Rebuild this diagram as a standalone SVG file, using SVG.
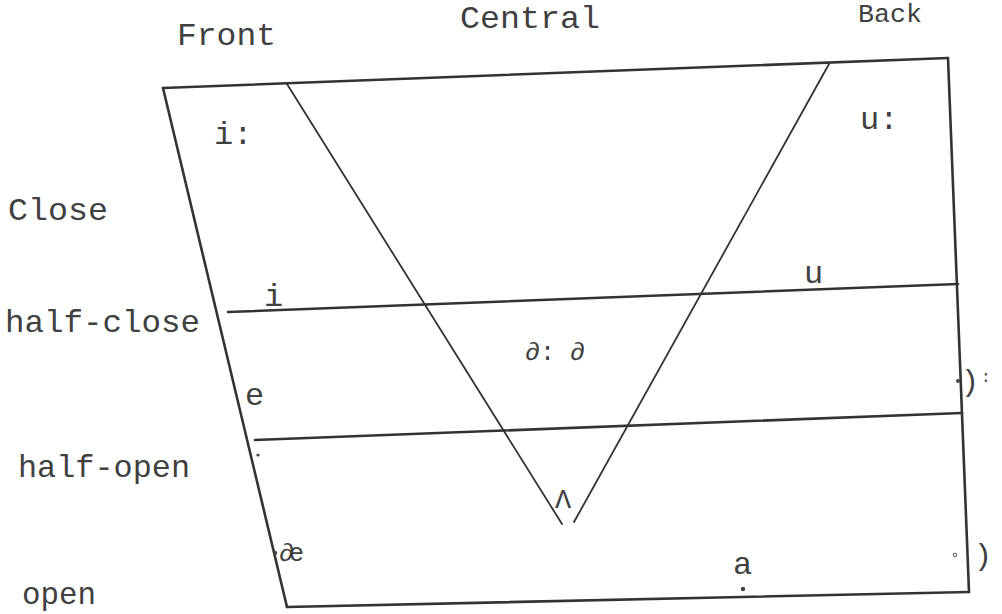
<svg xmlns="http://www.w3.org/2000/svg" width="1002" height="614" viewBox="0 0 1002 614">
<style>
.t{font-family:"Liberation Mono","Courier New",monospace;fill:#404040;font-size:32px}
.s{font-family:"Liberation Mono","Courier New",monospace;fill:#404040;font-size:25px}
.ln{stroke:#333;stroke-width:2.6;fill:none;stroke-linecap:round}
.v{stroke:#333;stroke-width:1.8;fill:none;stroke-linecap:round}
.d{fill:#444}
</style>
<rect width="1002" height="614" fill="#fff"/>
<g id="connectors">
<polyline class="ln" points="163,88 948,58"/>
<polyline class="ln" points="163,88 287,607"/>
<polyline class="ln" points="948,58 969,592"/>
<polyline class="ln" points="287,607 969,592"/>
<polyline class="ln" points="228,312 958,284"/>
<polyline class="ln" points="255,440 962,413"/>
<polyline class="v" points="287,84 562,524"/>
<polyline class="v" points="829,64 574,522"/>
</g>
<g id="headers">
<text class="t" x="177" y="45" textLength="99" lengthAdjust="spacingAndGlyphs">Front</text>
<text class="t" x="460" y="28" textLength="140" lengthAdjust="spacingAndGlyphs">Central</text>
<text class="t" x="858" y="22" style="font-size:26px" textLength="64" lengthAdjust="spacingAndGlyphs">Back</text>
</g>
<g id="rows">
<text class="t" x="8" y="220" textLength="100" lengthAdjust="spacingAndGlyphs">Close</text>
<text class="t" x="5" y="332" textLength="195" lengthAdjust="spacingAndGlyphs">half-close</text>
<text class="t" x="18" y="477" textLength="172" lengthAdjust="spacingAndGlyphs">half-open</text>
<text class="t" x="22" y="604" textLength="74" lengthAdjust="spacingAndGlyphs">open</text>
</g>
<g id="vowels">
<text class="t" x="214" y="144">i:</text>
<text class="t" x="860" y="129">u:</text>
<text class="t" x="264" y="306">i</text>
<text class="t" x="804" y="283">u</text>
<text class="s" x="525" y="360">∂: ∂</text>
<text class="t" x="245" y="405">e</text>
<text class="s" x="555" y="508" style="font-size:27px">Λ</text>
<circle class="d" cx="275" cy="553" r="2.2"/>
<text class="s" x="279" y="561" letter-spacing="-5">∂e</text>
<text class="t" x="733" y="574">a</text>
<circle class="d" cx="743" cy="589" r="2.2"/>
<circle class="d" cx="258" cy="455" r="1.6"/>
<circle class="d" cx="958" cy="381" r="2"/>
<text class="s" x="961" y="391" style="font-size:30px">)</text>
<text class="s" x="981" y="382" style="font-size:16px">:</text>
<circle cx="955" cy="555" r="1.8" fill="none" stroke="#555" stroke-width="1"/>
<text class="s" x="974" y="565" style="font-size:30px">)</text>
</g>
</svg>
